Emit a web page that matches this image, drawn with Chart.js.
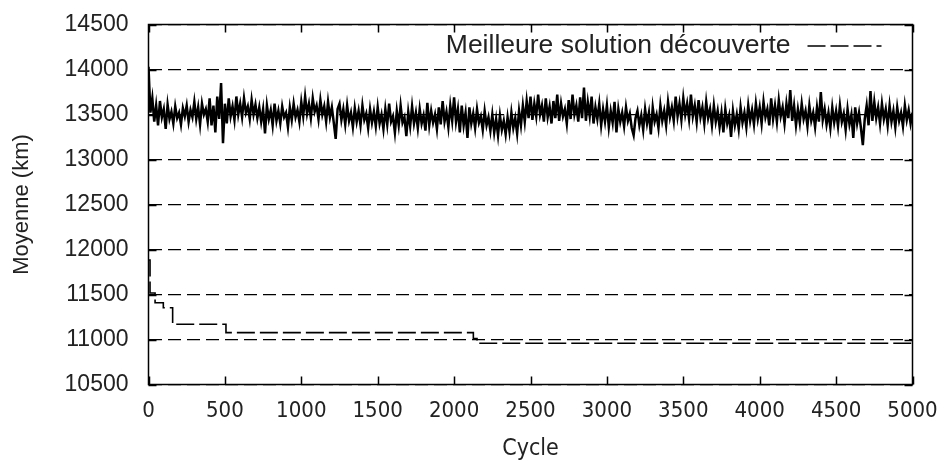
<!DOCTYPE html>
<html>
<head>
<meta charset="utf-8">
<script src="https://cdn.jsdelivr.net/npm/chart.js@4/dist/chart.umd.min.js"></script>
<style>
  html, body { margin: 0; padding: 0; background: #ffffff; }
  #wrap { width: 946px; height: 463px; }
</style>
</head>
<body>
<div id="wrap"><canvas id="c" width="946" height="463"></canvas></div>
<script>
// ---- data ----
const xTicks = [0, 500, 1000, 1500, 2000, 2500, 3000, 3500, 4000, 4500, 5000];
const yTicks = [10500, 11000, 11500, 12000, 12500, 13000, 13500, 14000, 14500];
const bestLabel = "Meilleure solution découverte";
const bestCycles = [0, 10, 43, 97, 158, 507, 2126, 2150, 5000];
const bestValues = [11883, 11517, 11409, 11353, 11169, 11076, 11010, 10958, 10958];
const avgStep = 12.5; // cycles between sampled points of the average curve
const avgValues = [
  14030, 13520, 13680, 13420, 13600, 13380, 13650, 13470, 13560, 13340, 13610, 13450, 13530, 13400, 13590, 13460, 13520, 13390, 13570, 13480,
  13600, 13420, 13550, 13470, 13640, 13450, 13580, 13390, 13620, 13500, 13560, 13420, 13680, 13380, 13600, 13300, 13700, 13450, 13850, 13180,
  13620, 13400, 13680, 13480, 13590, 13440, 13700, 13500, 13620, 13470, 13680, 13520, 13590, 13450, 13660, 13500, 13610, 13460, 13580, 13420,
  13560, 13290, 13600, 13450, 13550, 13380, 13620, 13430, 13540, 13400, 13590, 13470, 13520, 13360, 13580, 13440, 13620, 13470, 13550, 13420,
  13640, 13480, 13700, 13510, 13620, 13460, 13680, 13530, 13600, 13450, 13660, 13500, 13590, 13420, 13640, 13470, 13580, 13410, 13230, 13560,
  13620, 13440, 13560, 13390, 13600, 13430, 13520, 13360, 13570, 13420, 13540, 13380, 13600, 13440, 13510, 13350, 13560, 13410, 13530, 13370,
  13580, 13400, 13500, 13340, 13560, 13390, 13620, 13420, 13480, 13300, 13540, 13380, 13600, 13410, 13470, 13260, 13530, 13370, 13590, 13400,
  13520, 13350, 13560, 13400, 13490, 13320, 13630, 13380, 13540, 13410, 13500, 13340, 13580, 13390, 13650, 13420, 13530, 13360, 13600, 13430,
  13690, 13420, 13560, 13300, 13600, 13380, 13520, 13240, 13580, 13400, 13510, 13350, 13560, 13410, 13480, 13330, 13540, 13380, 13470, 13320,
  13500, 13300, 13450, 13270, 13490, 13330, 13430, 13280, 13470, 13310, 13520, 13350, 13460, 13290, 13540, 13380, 13600, 13420, 13650, 13460,
  13700, 13440, 13620, 13480, 13720, 13500, 13600, 13420, 13680, 13470, 13590, 13400, 13650, 13460, 13720, 13430, 13620, 13480, 13560, 13400,
  13660, 13450, 13720, 13500, 13600, 13420, 13690, 13460, 13800, 13430, 13640, 13480, 13700, 13400, 13580, 13450, 13620, 13380, 13560, 13420,
  13600, 13360, 13540, 13410, 13640, 13300, 13560, 13420, 13520, 13370, 13580, 13430, 13510, 13350, 13270, 13460, 13540, 13380, 13490, 13330,
  13560, 13400, 13520, 13280, 13580, 13420, 13500, 13350, 13600, 13430, 13540, 13380, 13640, 13470, 13580, 13430, 13700, 13480, 13620, 13440,
  13680, 13500, 13620, 13450, 13720, 13480, 13600, 13420, 13660, 13470, 13580, 13400, 13640, 13460, 13560, 13380, 13600, 13420, 13540, 13360,
  13520, 13300, 13560, 13400, 13490, 13250, 13540, 13380, 13500, 13340, 13580, 13410, 13520, 13360, 13600, 13430, 13550, 13390, 13620, 13450,
  13580, 13400, 13640, 13470, 13560, 13380, 13680, 13450, 13600, 13420, 13660, 13480, 13580, 13400, 13620, 13460, 13770, 13430, 13600, 13380,
  13560, 13410, 13620, 13450, 13540, 13370, 13600, 13430, 13520, 13360, 13580, 13420, 13750, 13440, 13560, 13390, 13520, 13350, 13580, 13410,
  13540, 13370, 13600, 13420, 13510, 13330, 13560, 13390, 13500, 13240, 13580, 13400, 13520, 13350, 13160, 13450, 13600, 13380, 13760, 13430,
  13640, 13460, 13580, 13400, 13620, 13450, 13560, 13380, 13600, 13420, 13540, 13360, 13580, 13430, 13520, 13370, 13600, 13440, 13550, 13400,
  13520
];
const xTitle = "Cycle";
const yTitle = "Moyenne (km)";

// ---- styles ----
const ink = "#000000";
const textInk = "#222222";
const tickFont = { family: "'Liberation Sans', Arial, sans-serif", size: 23 };
const xTickFont = { family: "'DejaVu Sans Condensed', 'Liberation Sans', sans-serif", size: 22 };
const bestDash = [18, 5];
const gridDash = [13, 6];

const frame = {
  id: 'frame',
  afterDatasetsDraw(chart) {
    const { ctx, chartArea: a, scales: { x, y } } = chart;
    ctx.save();
    ctx.strokeStyle = ink;
    ctx.lineWidth = 1.5;
    ctx.setLineDash([]);
    ctx.strokeRect(a.left, a.top, a.right - a.left, a.bottom - a.top);
    const t = 8;
    ctx.beginPath();
    xTicks.forEach(v => {
      const px = Math.round(x.getPixelForValue(v)) + 0.5;
      ctx.moveTo(px, a.bottom); ctx.lineTo(px, a.bottom - t);
      ctx.moveTo(px, a.top); ctx.lineTo(px, a.top + t);
    });
    yTicks.forEach(v => {
      const py = Math.round(y.getPixelForValue(v)) + 0.5;
      ctx.moveTo(a.left, py); ctx.lineTo(a.left + t, py);
      ctx.moveTo(a.right, py); ctx.lineTo(a.right - t, py);
    });
    ctx.stroke();
    // key
    const ds = chart.data.datasets[1];
    const ky = a.top + 21;
    ctx.font = "26.5px 'Liberation Sans', Arial, sans-serif";
    ctx.fillStyle = textInk;
    ctx.textAlign = 'right';
    ctx.textBaseline = 'middle';
    ctx.fillText(ds.label, a.right - 122, ky);
    ctx.strokeStyle = ink;
    ctx.lineWidth = 1.5;
    ctx.setLineDash(ds.borderDash);
    ctx.beginPath();
    ctx.moveTo(a.right - 105, ky + 0.5);
    ctx.lineTo(a.right - 31, ky + 0.5);
    ctx.stroke();
    ctx.restore();
  }
};

new Chart(document.getElementById('c'), {
  type: 'line',
  data: {
    datasets: [
      {
        label: "",
        data: avgValues.map((v, i) => ({ x: i * avgStep, y: v })),
        borderColor: ink,
        borderWidth: 2.5,
        pointRadius: 0,
        tension: 0,
        fill: false
      },
      {
        label: bestLabel,
        data: bestCycles.map((c, i) => ({ x: c, y: bestValues[i] })),
        borderColor: ink,
        borderWidth: 1.6,
        borderDash: bestDash,
        stepped: 'before',
        pointRadius: 0,
        fill: false
      }
    ]
  },
  options: {
    responsive: false,
    animation: false,
    events: [],
    layout: { padding: { left: 0, right: 33.5, top: 24.5, bottom: 0 } },
    plugins: { legend: { display: false }, tooltip: { enabled: false } },
    scales: {
      x: {
        type: 'linear',
        min: 0, max: 5000,
        afterBuildTicks: s => { s.ticks = xTicks.map(v => ({ value: v })); },
        afterFit: s => { s.height = 463 - 384.5; s.paddingLeft = 0; s.paddingRight = 0; },
        grid: { display: false, drawTicks: false },
        border: { display: false },
        ticks: { color: textInk, font: xTickFont, padding: 14, maxRotation: 0, autoSkip: false, callback: v => String(v) },
        title: { display: true, text: xTitle, color: textInk, font: { family: "'DejaVu Sans Condensed', 'Liberation Sans', sans-serif", size: 23 }, padding: { top: 2, bottom: 0 } }
      },
      y: {
        type: 'linear',
        min: 10500, max: 14500,
        afterBuildTicks: s => { s.ticks = yTicks.map(v => ({ value: v })); },
        afterFit: s => { s.width = 148.5; s.paddingTop = 0; s.paddingBottom = 0; },
        grid: { color: ink, lineWidth: 1.3, drawTicks: false },
        border: { display: false, dash: gridDash },
        ticks: { color: textInk, font: tickFont, padding: 20, autoSkip: false, callback: v => String(v) },
        title: { display: true, text: yTitle, color: textInk, font: { family: "'Liberation Sans', Arial, sans-serif", size: 22 }, padding: { top: 9, bottom: 4 } }
      }
    }
  },
  plugins: [frame]
});
</script>
</body>
</html>
